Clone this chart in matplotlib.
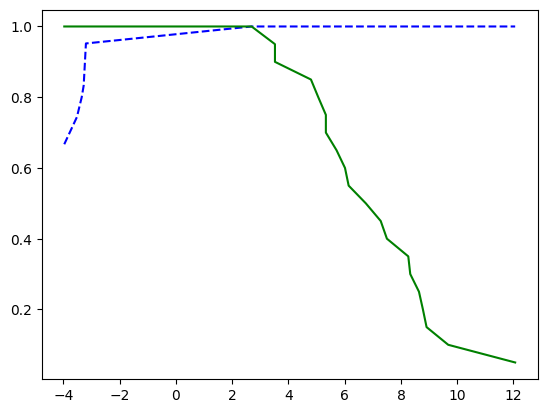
import matplotlib
matplotlib.use('Agg')
import matplotlib.pyplot as plt

# green curve
green_x = [-3.97, 2.69, 3.52, 3.52, 4.80, 5.06, 5.33, 5.33, 5.71, 6.01, 6.14,
           6.75, 7.28, 7.50, 8.26, 8.33, 8.64, 8.78, 8.91, 9.68, 12.06]
green_y = [1.0, 1.0, 0.95, 0.90, 0.85, 0.80, 0.75, 0.70, 0.65, 0.60, 0.55,
           0.50, 0.45, 0.40, 0.35, 0.30, 0.25, 0.20, 0.15, 0.10, 0.05]

# blue dashed curve
blue_x = [-3.97, -3.52, -3.35, -3.28, -3.20, 2.69, 12.06]
blue_y = [0.667, 0.744, 0.80, 0.833, 0.952, 1.0, 1.0]

fig = plt.figure(figsize=(6.4, 4.8))
plt.plot(blue_x, blue_y, 'b--')
plt.plot(green_x, green_y, 'g-')
plt.savefig('out.png', bbox_inches='tight')
